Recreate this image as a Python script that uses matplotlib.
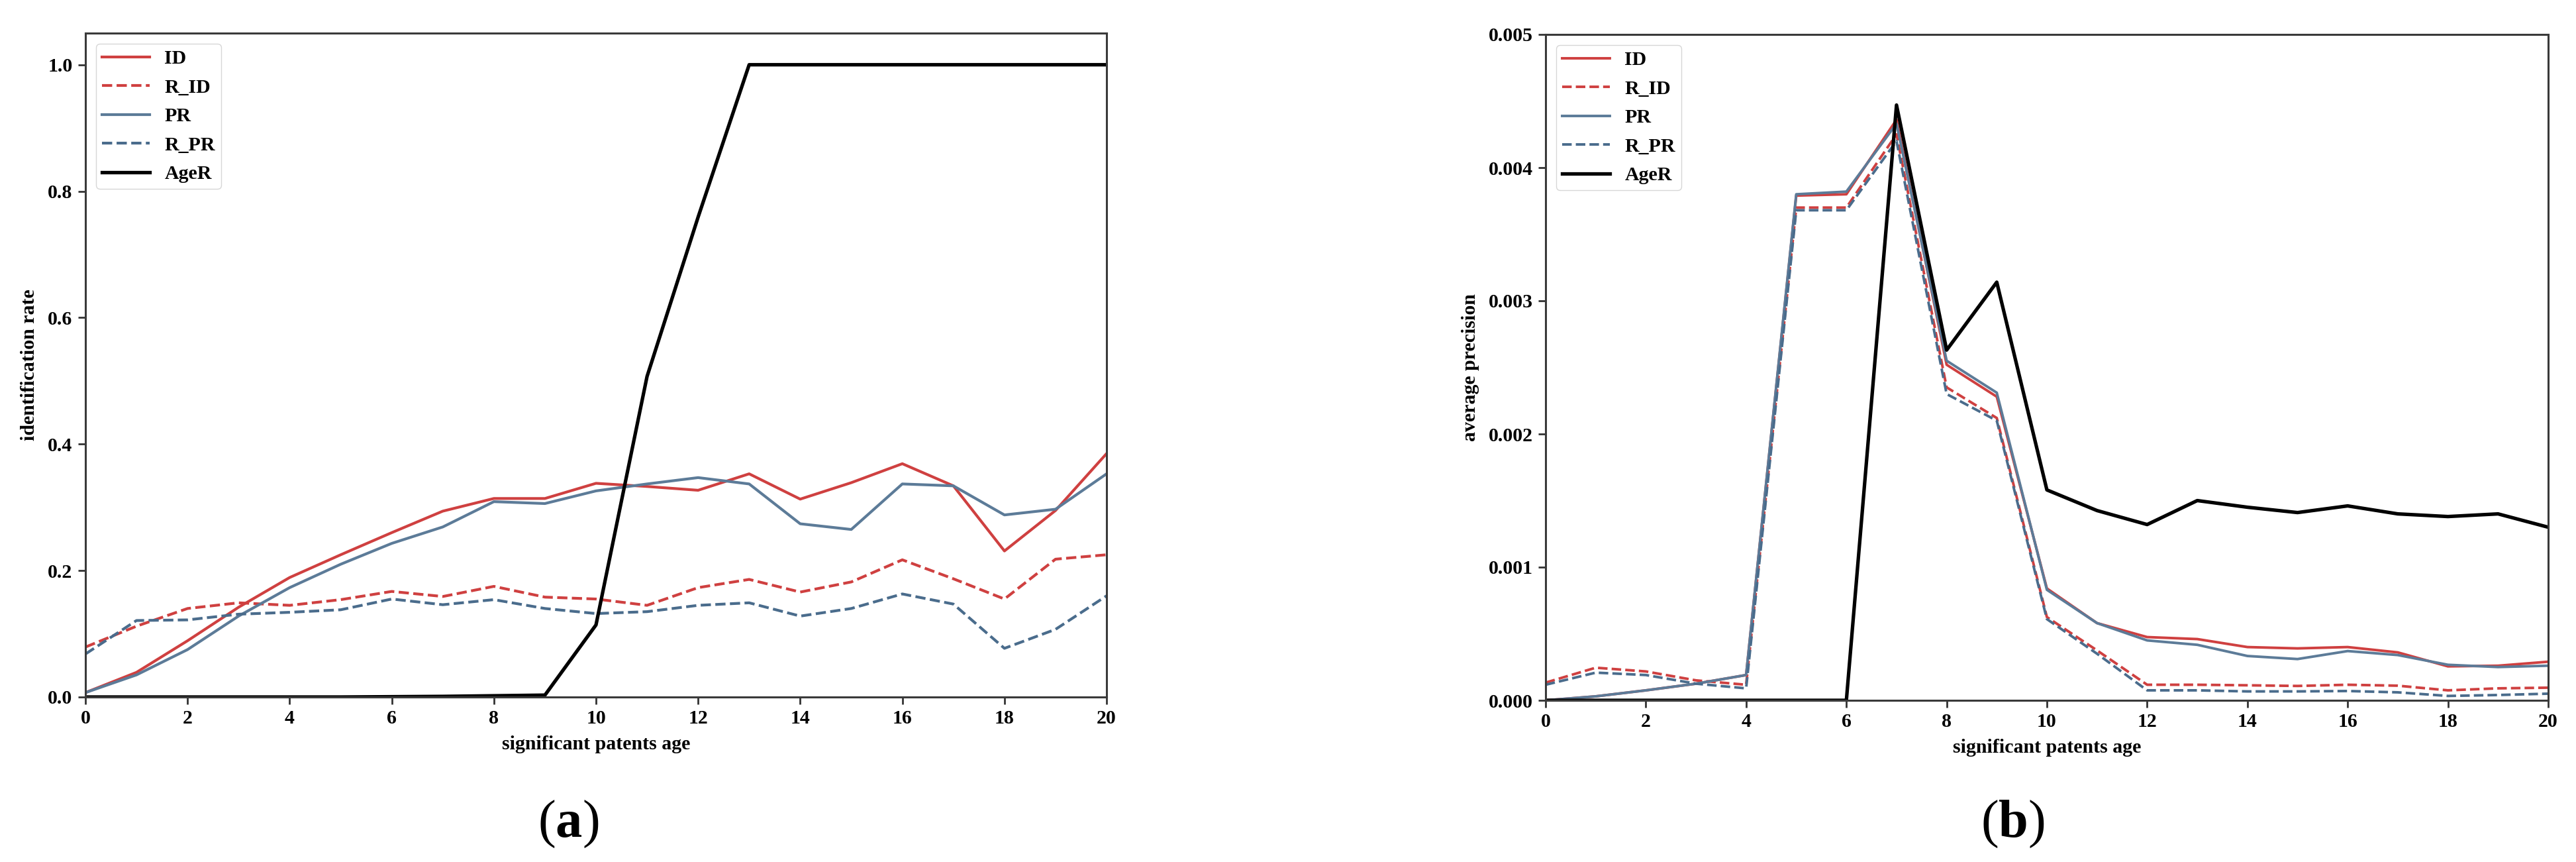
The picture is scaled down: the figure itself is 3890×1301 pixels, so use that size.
import matplotlib
matplotlib.use("Agg")
import matplotlib.pyplot as plt

plt.rcParams['font.family'] = ['Liberation Serif', 'DejaVu Serif']
plt.rcParams['font.weight'] = 'bold'
plt.rcParams['mathtext.fontset'] = 'custom'
plt.rcParams['mathtext.rm'] = 'Liberation Serif'
plt.rcParams['mathtext.bf'] = 'Liberation Serif:bold'

ages = list(range(21))
x_ticks = list(range(0, 21, 2))

# Panel (a): identification rate
a_ID = [0.007, 0.039, 0.089, 0.142, 0.189, 0.225, 0.260, 0.294, 0.314, 0.314, 0.338,
        0.333, 0.327, 0.353, 0.313, 0.339, 0.369, 0.334, 0.231, 0.295, 0.385]
a_R_ID = [0.079, 0.112, 0.140, 0.149, 0.145, 0.154, 0.167, 0.159, 0.175, 0.158, 0.155,
          0.145, 0.173, 0.186, 0.166, 0.182, 0.217, 0.187, 0.155, 0.218, 0.225]
a_PR = [0.007, 0.035, 0.075, 0.128, 0.173, 0.210, 0.243, 0.269, 0.309, 0.306, 0.326,
        0.337, 0.347, 0.337, 0.274, 0.265, 0.337, 0.334, 0.288, 0.297, 0.353]
a_R_PR = [0.068, 0.121, 0.122, 0.131, 0.134, 0.138, 0.155, 0.146, 0.154, 0.140, 0.132,
          0.135, 0.145, 0.149, 0.128, 0.140, 0.163, 0.147, 0.077, 0.107, 0.160]
a_AgeR = [0.0, 0.0, 0.0, 0.0, 0.0, 0.0, 0.0005, 0.001, 0.002, 0.003, 0.114,
          0.507, 0.759, 1.0, 1.0, 1.0, 1.0, 1.0, 1.0, 1.0, 1.0]

# Panel (b): average precision
b_ID = [0.0, 0.00003, 0.000075, 0.000125, 0.00019, 0.00379, 0.00380, 0.00436, 0.00252, 0.00228, 0.00084,
        0.00058, 0.000475, 0.00046, 0.00040, 0.00039, 0.00040, 0.00036, 0.000255, 0.00026, 0.00029]
b_R_ID = [0.000133, 0.000245, 0.000217, 0.00015, 0.000117, 0.00370, 0.00370, 0.00425, 0.00235, 0.00212, 0.000625,
          0.000375, 0.000117, 0.000117, 0.000113, 0.000108, 0.000117, 0.00011, 0.000075, 0.00009, 0.000095]
b_PR = [0.0, 0.00003, 0.000075, 0.000125, 0.00019, 0.00380, 0.00382, 0.00433, 0.00255, 0.00231, 0.00083,
        0.00058, 0.00045, 0.000417, 0.000333, 0.00031, 0.00037, 0.00034, 0.000267, 0.00025, 0.00026]
b_R_PR = [0.000117, 0.000208, 0.00019, 0.000125, 0.00009, 0.00368, 0.00368, 0.00420, 0.00230, 0.00210, 0.00061,
          0.00035, 0.000075, 0.000075, 0.000067, 0.000067, 0.00007, 0.00006, 0.000033, 0.00004, 0.00005]
b_AgeR = [0.0, 0.0, 0.0, 0.0, 0.0, 0.0, 0.0, 0.00447, 0.00263, 0.00314, 0.00158,
          0.001425, 0.00132, 0.0015, 0.00145, 0.00141, 0.00146, 0.0014, 0.00138, 0.0014, 0.00130]

labels = ['ID', 'R_ID', 'PR', 'R_PR', 'AgeR']
RED = '#cf4040'
BLUE = '#5c7b98'
BLUE_D = '#4a6c8c'
FS = 21.5

fig = plt.figure(figsize=(38.9, 13.01), dpi=100)
ax1 = fig.add_axes([129/3890, 1-1052/1301, 1542/3890, 1002/1301])
ax2 = fig.add_axes([2334/3890, 1-1057/1301, 1514/3890, 1005/1301])

def draw(ax, series, ylim, yticks, yfmt, ylabel, lw, blw):
    styles = [(RED, '-'), (RED, '--'), (BLUE, '-'), (BLUE_D, '--'), ('black', '-')]
    for (c, ls), s, lab in zip(styles, series, labels):
        ax.plot(ages, s, color=c, linestyle=ls, lw=(blw if c == 'black' else lw), label=lab)
    ax.set_xlim(0, 20)
    ax.set_ylim(*ylim)
    ax.set_xticks(x_ticks)
    ax.set_yticks(yticks)
    ax.set_yticklabels([yfmt.format(v) for v in yticks])
    ax.tick_params(labelsize=FS, length=8, width=2, color='#333333', pad=6)
    for lab in ax.get_xticklabels() + ax.get_yticklabels():
        lab.set_fontweight('bold')
    for sp in ax.spines.values():
        sp.set_linewidth(2.2)
        sp.set_color('#3a3a3a')
    ax.set_xlabel('significant patents age', fontsize=FS, fontweight='bold', labelpad=8)
    ax.set_ylabel(ylabel, fontsize=FS, fontweight='bold', labelpad=10)
    ax.legend(loc='upper left', labelspacing=0.55, handlelength=2.4,
              handletextpad=0.75, borderpad=0.3, borderaxespad=0.55,
              prop={'weight': 'bold', 'size': FS})

draw(ax1, [a_ID, a_R_ID, a_PR, a_R_PR, a_AgeR], (0, 1.05), [0.0, 0.2, 0.4, 0.6, 0.8, 1.0],
     '{:.1f}', 'identification rate', 3.0, 3.8)
draw(ax2, [b_ID, b_R_ID, b_PR, b_R_PR, b_AgeR], (0, 0.005), [0.0, 0.001, 0.002, 0.003, 0.004, 0.005],
     '{:.3f}', 'average precision', 2.8, 3.8)

fig.text(858/3890, 1-1244/1301, r'($\mathbf{a}$)', fontsize=58, fontweight='normal',
         ha='center', va='center')
fig.text(3039/3890, 1-1244/1301, r'($\mathbf{b}$)', fontsize=58, fontweight='normal',
         ha='center', va='center')

fig.savefig('out.png', dpi=100)
